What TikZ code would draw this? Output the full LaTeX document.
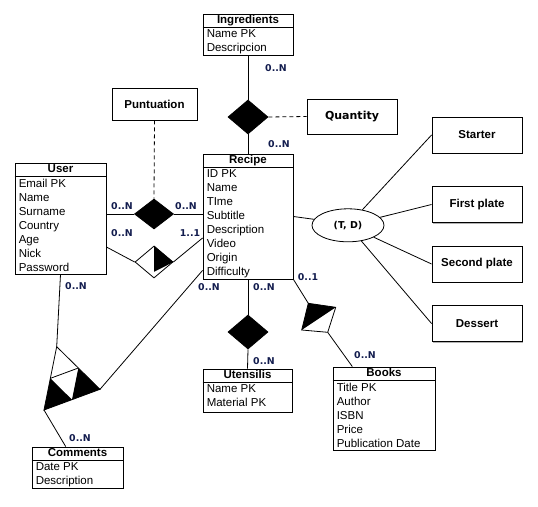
\documentclass[tikz,border=0pt]{standalone}
\usepackage{fontspec}
\setmainfont{Liberation Sans}
\newfontfamily\lblfont{DejaVu Sans}
\usetikzlibrary{shapes.geometric,shadows,calc,fit}
\definecolor{lblnavy}{HTML}{121C4E}
\tikzset{
  boxshadow/.style={drop shadow={shadow xshift=1.2pt,shadow yshift=-1.2pt,fill=black,opacity=0.3}},
  entbox/.style={draw, line width=0.9pt, fill=white, boxshadow, inner sep=0pt},
  sepline/.style={line width=0.8pt},
  enttitle/.style={font=\fontsize{11.5}{13}\selectfont\bfseries, inner sep=0pt, text height=8.5pt, text depth=2pt},
  entattr/.style={font=\fontsize{11.5}{14}\selectfont, align=left, inner sep=0pt, anchor=north west},
  plainbox/.style={draw, line width=0.9pt, fill=white, boxshadow, inner sep=0pt, font=\fontsize{11.5}{13}\selectfont\bfseries},
  relfull/.style={diamond, draw, fill=black, inner sep=0pt, line width=0.8pt},
  relhalf/.style={diamond, draw, fill=white, inner sep=0pt, line width=0.8pt},
  conn/.style={line width=0.8pt},
  dashconn/.style={line width=0.8pt, dash pattern=on 4pt off 3pt},
  card/.style={font=\lblfont\bfseries\fontsize{9.4}{10}\selectfont, text=lblnavy, inner sep=0pt},
}
\newcommand{\entity}[7]{%
  \node[entbox, fit={(#2,#3) (#4,#5)}] (#1) {};
  \draw[sepline] ([yshift=-13.5pt]#1.north west) -- ([yshift=-13.5pt]#1.north east);
  \node[enttitle] (#1-t) at ([yshift=-7pt]#1.north) {#6};
  \node[entattr] (#1-a) at ([xshift=4pt,yshift=-16pt]#1.north west) {#7};
}
\begin{document}
\begin{tikzpicture}[x=1pt,y=-1pt]
\useasboundingbox (0,0) rectangle (538,506);

% entities
\entity{ingredients}{203}{14}{293}{55}{Ingredients}{Name PK\\Descripcion}
\entity{recipe}{203}{154}{293}{279}{Recipe}{ID PK\\Name\\TIme\\Subtitle\\Description\\Video\\Origin\\Difficulty}
\entity{user}{15}{163}{106}{274}{User}{Email PK\\Name\\Surname\\Country\\Age\\Nick\\Password}
\entity{comments}{32}{447}{123}{488}{Comments}{Date PK\\Description}
\entity{utensilis}{203}{369}{292}{412}{Utensilis}{Name PK\\Material PK}
\entity{books}{333}{367}{435}{450}{Books}{Title PK\\Author\\ISBN\\Price\\Publication Date}

% plain boxes
\node[plainbox, minimum width=85pt, minimum height=32pt] (puntuation) at (154.5,104) {Puntuation};
\node[plainbox, minimum width=90pt, minimum height=35pt, font=\lblfont\bfseries\fontsize{11}{13}\selectfont] (quantity) at (352,116.5) {Quantity};
\node[plainbox, minimum width=90pt, minimum height=36pt] (starter) at (477,135) {Starter};
\node[plainbox, minimum width=90pt, minimum height=36pt] (firstplate) at (477,204.5) {First plate};
\node[plainbox, minimum width=90pt, minimum height=36pt] (secondplate) at (477,264) {Second plate};
\node[plainbox, minimum width=90pt, minimum height=36pt] (dessert) at (477,323.5) {Dessert};

% specialization ellipse
\node[ellipse, draw, line width=0.8pt, fill=white, minimum width=72pt, minimum height=33pt, inner sep=0pt,
      font=\lblfont\bfseries\fontsize{9.5}{11}\selectfont] (tdell) at (348,225.3) {(T, D)};

% relationships
\node[relfull, minimum width=40pt, minimum height=34pt] (ingrel) at (248,117) {};
\node[relfull, minimum width=39pt, minimum height=30pt] (punrel) at (154,214) {};
\node[relhalf, minimum width=38pt, minimum height=32pt] (ownrel) at (154,262) {};
\fill (ownrel.north) -- (ownrel.east) -- ($(ownrel.north)!0.8!(ownrel.south)$) -- cycle;
\node[relfull, minimum width=40pt, minimum height=34pt] (utrel) at (248,332) {};

% books relationship (tilted)
\coordinate (bkT) at (308.3,303.3);
\coordinate (bkR) at (335.7,307.3);
\coordinate (bkB) at (327.7,332.3);
\coordinate (bkL) at (301.7,330);
\fill (bkT) -- (bkR) -- (bkL) -- cycle;
\draw[conn, line join=miter] (bkT) -- (bkR) -- (bkB) -- (bkL) -- cycle;

% ternary relationship
\coordinate (tA) at (56.7,346.7);
\coordinate (tB) at (44,410);
\coordinate (tC) at (100,389.3);
\coordinate (mAB) at ($(tA)!0.5!(tB)$);
\coordinate (mAC) at ($(tA)!0.5!(tC)$);
\coordinate (mBC) at ($(tB)!0.5!(tC)$);
\fill (tB) -- (mAB) -- (mBC) -- cycle;
\fill (tC) -- (mAC) -- (mBC) -- cycle;
\draw[conn, line join=miter] (tA) -- (tB) -- (tC) -- cycle;
\draw[conn] (mAB) -- (mAC);

% connectors
\draw[conn] (ingredients.south) -- (ingrel.north);
\draw[conn] (ingrel.south) -- (recipe.north);
\draw[dashconn] (ingrel.east) -- (quantity.west);
\draw[dashconn] (puntuation.south) -- (punrel.north);
\draw[conn] (punrel.west) -- (punrel.west -| user.east);
\draw[conn] (punrel.east) -- (punrel.east -| recipe.west);
\draw[conn] (ownrel.west) -- ([yshift=-28.5pt]user.east);
\draw[conn] (ownrel.east) -- ([yshift=-21.5pt]recipe.west);
\draw[conn] (recipe.east) -- (tdell.170);
\draw[conn] (tdell) -- (starter.west);
\draw[conn] (tdell) -- (firstplate.west);
\draw[conn] (tdell) -- (secondplate.west);
\draw[conn] (tdell) -- (dessert.west);
\draw[conn] (recipe.south) -- (utrel.north);
\draw[conn] (utrel.south) -- (utensilis.north);
\draw[conn] (recipe.south east) -- (bkT);
\draw[conn] (bkB) -- ([xshift=-31.7pt]books.north);
\draw[conn] (user.south) -- (tA);
\draw[conn] ([yshift=9pt]recipe.south west) -- (tC);
\draw[conn] (tB) -- ([xshift=-11.8pt]comments.north);

% cardinalities
\node[card] (c1) at (276,68) {0..N};
\node[card] (c2) at (279,144) {0..N};
\node[card] (c3) at (122,206) {0..N};
\node[card] (c4) at (186,206) {0..N};
\node[card] (c5) at (122,233) {0..N};
\node[card] (c6) at (190,233) {1..1};
\node[card] (c7) at (209,287) {0..N};
\node[card] (c8) at (264,287) {0..N};
\node[card] (c9) at (308,277) {0..1};
\node[card] (c10) at (264,361) {0..N};
\node[card] (c11) at (365,355) {0..N};
\node[card] (c12) at (76,286) {0..N};
\node[card] (c13) at (80,438) {0..N};
\end{tikzpicture}
\end{document}
